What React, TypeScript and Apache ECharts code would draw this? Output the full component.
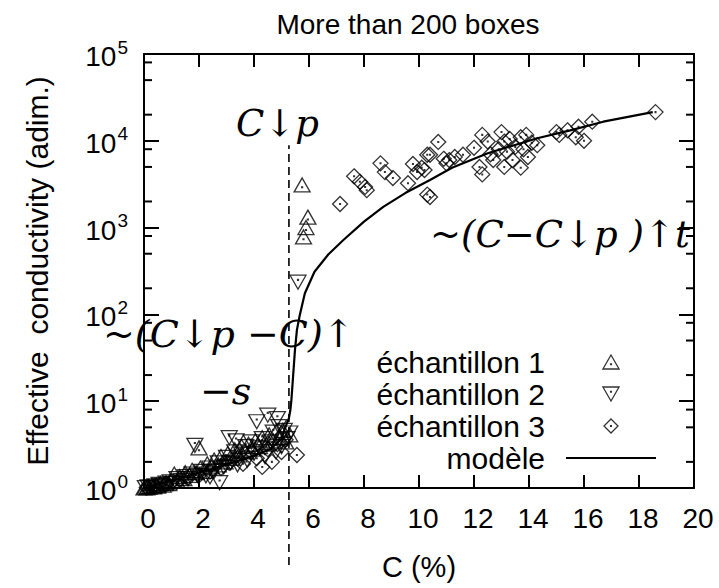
import React, { useEffect, useRef } from "react";
import * as echarts from "echarts";

const TITLE = "More than 200 boxes";
const X_NAME = "C (%)";
const Y_NAME = "Effective\u00a0 conductivity (adim.)";
const SERIES_NAMES = ["échantillon 1", "échantillon 2", "échantillon 3", "modèle"];
const X_MIN = 0;
const X_MAX = 20;
const X_INTERVAL = 2;
const Y_MIN = 1;
const Y_MAX = 1e5;
const MINOR_MANTISSAS = [2, 5, 8];
const MINOR_DECADES = [0, 1, 2, 3, 4];

const CP = 5.27;
const CP_LINE_Y = [0.13, 8900];

const ANNOT_TOP = "C↓p";
const ANNOT_RIGHT = "~(C−C↓p )↑t";
const ANNOT_LEFT = "~(C↓p −C)↑";
const ANNOT_S = "−s";

const sample1: [number, number][] = [
  [0, 1.0], [0.05, 1.02], [0.1, 1.0], [0.15, 1.04], [0.2, 1.02], [0.3, 1.06], [0.35, 1.03],
  [0.45, 1.08], [0.5, 1.05], [0.6, 1.12], [0.7, 1.08], [0.8, 1.15], [0.9, 1.12], [1.0, 1.22],
  [1.1, 1.45], [1.2, 1.2], [1.3, 1.35], [1.45, 1.28], [1.5, 1.5], [1.65, 1.4], [1.75, 1.6],
  [1.9, 1.5], [2.0, 2.9], [2.05, 1.7], [2.2, 1.55], [2.3, 1.9], [2.45, 1.75], [2.55, 2.1],
  [2.7, 1.85], [2.8, 2.3], [2.95, 2.0], [3.05, 2.5], [3.2, 2.2], [3.3, 2.75], [3.45, 2.4],
  [3.55, 3.0], [3.7, 2.6], [3.8, 3.2], [3.95, 2.8], [4.05, 3.5], [4.2, 3.0], [4.3, 3.8],
  [4.45, 3.2], [4.55, 4.1], [4.7, 3.5], [4.8, 4.4], [4.95, 3.8], [5.05, 4.6], [5.15, 3.4],
  [5.3, 4.1],
  [5.75, 3100], [5.96, 1320], [5.89, 1000], [5.8, 780],
];

const sample2: [number, number][] = [
  [0.05, 1.01], [0.15, 1.03], [0.25, 1.02], [0.4, 1.06], [0.55, 1.1], [0.65, 1.06], [0.8, 1.14],
  [0.95, 1.18], [1.05, 1.12], [1.2, 1.28], [1.35, 1.22], [1.5, 1.35], [1.6, 1.28], [1.75, 1.45],
  [1.85, 3.1], [1.95, 1.4], [2.1, 1.55], [2.25, 1.38], [2.4, 1.7], [2.4, 1.34], [2.55, 1.55],
  [2.7, 1.95], [2.75, 1.15], [2.9, 1.75], [3.0, 2.25], [3.1, 3.8], [3.15, 1.95], [3.3, 2.6],
  [3.35, 3.5], [3.4, 1.85], [3.55, 2.45], [3.7, 3.0], [3.75, 2.1], [3.9, 3.4], [4.0, 2.5],
  [4.1, 5.8], [4.2, 2.9], [4.3, 3.7], [4.4, 2.3], [4.5, 6.9], [4.6, 3.4], [4.7, 4.4],
  [4.8, 2.6], [4.85, 6.3], [4.9, 5.1], [5.0, 3.0], [5.1, 4.6], [5.2, 3.7], [5.3, 4.3],
  [5.6, 235],
];

const sample3: [number, number][] = [
  [0.1, 1.01], [0.4, 1.05], [0.8, 1.1], [1.2, 1.18], [1.6, 1.3], [2.0, 1.4], [2.4, 1.55],
  [2.8, 1.7], [3.1, 1.95], [3.4, 2.2], [3.6, 1.9], [3.9, 2.6], [4.1, 2.2], [4.3, 1.75],
  [4.5, 2.8], [4.65, 2.0], [4.85, 3.2], [5.0, 2.6], [5.15, 3.6], [5.56, 2.4],
  [7.13, 1870], [7.64, 3900], [7.85, 3370], [8.04, 2940], [8.1, 2700], [8.6, 5500],
  [8.76, 4360], [9.05, 3720], [9.6, 3250], [9.78, 5400], [9.93, 4370], [10.1, 4900],
  [10.3, 6900], [10.3, 2400], [10.7, 9700], [10.4, 6900], [10.2, 4600], [10.4, 2250],
  [10.9, 6200], [11.0, 5500], [11.1, 6000], [11.3, 6500], [11.6, 6900], [12.0, 8300],
  [12.2, 5000], [12.3, 11700], [12.3, 4100], [12.5, 9800], [12.6, 7000], [12.7, 6000],
  [12.9, 8000], [13.0, 12600], [13.1, 9800], [13.1, 5000], [13.2, 7500], [13.3, 10500],
  [13.4, 6000], [13.5, 8500], [13.7, 11000], [13.7, 4900], [13.8, 8000], [13.9, 11700],
  [13.96, 6500], [14.1, 9500], [14.3, 8900], [15.0, 12600], [15.1, 11700], [15.4, 13200],
  [15.7, 11000], [15.8, 14500], [16.0, 10000], [16.3, 16600], [18.6, 21400],
];

const model: [number, number][] = [
  [0, 1.0], [1, 1.22], [2, 1.5], [3, 1.85], [4, 2.35], [4.6, 2.8], [5.0, 3.7], [5.13, 4.9],
  [5.27, 6.4], [5.32, 7.8], [5.36, 10.3], [5.42, 19], [5.49, 39], [5.56, 66], [5.67, 100],
  [5.85, 175], [6.2, 310], [6.7, 490], [7.25, 720], [8.0, 1170], [8.7, 1730], [9.5, 2500],
  [10.4, 3540], [11.2, 4900], [12.5, 7200], [14.3, 10700], [15.5, 13200], [16.7, 16600],
  [18.5, 21400],
];

const SANS = "'Liberation Sans', Arial, Helvetica, sans-serif";
const SERIF = "'DejaVu Serif', 'Liberation Serif', serif";

const DOT = " M4.75,M_Y L5.25,M_Y L5.25,P_Y L4.75,P_Y Z";
const TRI_UP = "path://M5,0 L10,8.66 L0,8.66 Z" + DOT.replace(/M_Y/g, "5.5").replace(/P_Y/g, "6.0");
const TRI_DOWN = "path://M0,0 L10,0 L5,8.66 Z" + DOT.replace(/M_Y/g, "2.65").replace(/P_Y/g, "3.15");
const DIAMOND = "path://M5,0 L10,5 L5,10 L0,5 Z" + DOT.replace(/M_Y/g, "4.75").replace(/P_Y/g, "5.25");
const LINE_ICON = "path://M0,0 L90,0 L90,2 L0,2 Z";

export default function App() {
  const ref = useRef<HTMLDivElement>(null);

  useEffect(() => {
    if (!ref.current) return;
    const chart = echarts.init(ref.current, undefined, { renderer: "svg" });

    const minorTicks: number[][] = [];
    MINOR_DECADES.forEach((d) =>
      MINOR_MANTISSAS.forEach((m) => minorTicks.push([X_MIN, m * Math.pow(10, d)]))
    );

    const hollow = { color: "rgba(0,0,0,0)", borderColor: "#000", borderWidth: 1.3 };
    const axisLine = { show: true, onZero: false, lineStyle: { color: "#000", width: 2 } };

    const option: any = {
      animation: false,
      backgroundColor: "#fff",
      grid: { left: 144, right: 25, top: 54, bottom: 100, containLabel: false },
      xAxis: [
        {
          type: "value",
          min: X_MIN,
          max: X_MAX,
          interval: X_INTERVAL,
          position: "bottom",
          name: X_NAME,
          nameLocation: "middle",
          nameGap: 64,
          nameTextStyle: { fontSize: 29, fontFamily: SANS, color: "#000" },
          axisLine,
          axisTick: { show: true, inside: true, length: 13, lineStyle: { color: "#000", width: 2 } },
          axisLabel: { fontSize: 28, fontFamily: SANS, color: "#000", margin: 16, padding: [0, 0, 0, 8] },
          splitLine: { show: false },
        },
        {
          type: "value",
          min: X_MIN,
          max: X_MAX,
          interval: X_INTERVAL,
          position: "top",
          axisLine,
          axisTick: { show: true, inside: true, length: 13, lineStyle: { color: "#000", width: 2 } },
          axisLabel: { show: false },
          splitLine: { show: false },
        },
      ],
      yAxis: [
        {
          type: "log",
          logBase: 10,
          min: Y_MIN,
          max: Y_MAX,
          splitNumber: 5,
          position: "left",
          name: Y_NAME,
          nameLocation: "middle",
          nameGap: 92,
          nameRotate: 90,
          nameTextStyle: { fontSize: 30, fontFamily: SANS, color: "#000" },
          axisLine,
          axisTick: { show: true, inside: true, length: 15, lineStyle: { color: "#000", width: 2 } },
          axisLabel: {
            margin: 16,
            formatter: (v: number) => `{b|10}{s|${Math.round(Math.log10(v))}}`,
            rich: {
              b: { fontSize: 28, fontFamily: SANS, color: "#000", verticalAlign: "bottom" },
              s: { fontSize: 19, fontFamily: SANS, color: "#000", verticalAlign: "bottom", padding: [0, 0, 14, 1] },
            },
          },
          splitLine: { show: false },
        },
        {
          type: "log",
          logBase: 10,
          min: Y_MIN,
          max: Y_MAX,
          splitNumber: 5,
          position: "right",
          axisLine,
          axisTick: { show: true, inside: true, length: 15, lineStyle: { color: "#000", width: 2 } },
          axisLabel: { show: false },
          splitLine: { show: false },
        },
      ],
      legend: {
        data: [
          { name: SERIES_NAMES[0] },
          { name: SERIES_NAMES[1] },
          { name: SERIES_NAMES[2] },
          { name: SERIES_NAMES[3], icon: LINE_ICON, itemStyle: { color: "#000", borderWidth: 0 } },
        ],
        orient: "vertical",
        align: "right",
        right: 58,
        top: 341,
        itemWidth: 90,
        itemHeight: 14,
        itemGap: 0,
        selectedMode: false,
        itemStyle: { borderWidth: 1.3 },
        textStyle: { fontSize: 30, fontFamily: SANS, color: "#000", lineHeight: 32, padding: [0, 16, 0, 0] },
      },
      series: [
        {
          name: SERIES_NAMES[0],
          type: "scatter",
          data: sample1,
          symbol: TRI_UP,
          symbolSize: [16, 14],
          itemStyle: hollow,
          z: 3,
        },
        {
          name: SERIES_NAMES[1],
          type: "scatter",
          data: sample2,
          symbol: TRI_DOWN,
          symbolSize: [16, 14],
          itemStyle: hollow,
          z: 3,
        },
        {
          name: SERIES_NAMES[2],
          type: "scatter",
          data: sample3,
          symbol: DIAMOND,
          symbolSize: 15,
          itemStyle: hollow,
          z: 3,
        },
        {
          name: SERIES_NAMES[3],
          type: "line",
          data: model,
          symbol: "none",
          showSymbol: false,
          lineStyle: { color: "#000", width: 2.2 },
          itemStyle: { color: "#000" },
          z: 4,
        },
        {
          name: "Cp",
          type: "line",
          data: CP_LINE_Y.map((y) => [CP, y]),
          symbol: "none",
          clip: false,
          lineStyle: { color: "#000", width: 1.6, type: [8, 5] },
          z: 2,
        },
        {
          name: "minor",
          type: "custom",
          data: minorTicks,
          silent: true,
          clip: false,
          renderItem: (params: any, api: any) => {
            const v = api.value(1);
            const pl = api.coord([X_MIN, v]);
            const pr = api.coord([X_MAX, v]);
            const st = { stroke: "#000", lineWidth: 2 };
            return {
              type: "group",
              children: [
                { type: "line", shape: { x1: pl[0], y1: pl[1], x2: pl[0] + 8, y2: pl[1] }, style: st },
                { type: "line", shape: { x1: pr[0] - 8, y1: pr[1], x2: pr[0], y2: pr[1] }, style: st },
              ],
            };
          },
        },
      ],
      graphic: [
        {
          type: "text",
          x: 408,
          y: 24,
          style: { text: TITLE, fontSize: 28, fontFamily: SANS, fill: "#000", textAlign: "center", textVerticalAlign: "middle" },
        },
        {
          type: "text",
          x: 236,
          y: 123,
          style: { text: ANNOT_TOP, fontSize: 37, fontFamily: SERIF, fontStyle: "italic", fill: "#000", textVerticalAlign: "middle" },
        },
        {
          type: "text",
          x: 430,
          y: 234,
          style: { text: ANNOT_RIGHT, fontSize: 37, fontFamily: SERIF, fontStyle: "italic", fill: "#000", textVerticalAlign: "middle" },
        },
        {
          type: "text",
          x: 103,
          y: 334,
          style: { text: ANNOT_LEFT, fontSize: 38, fontFamily: SERIF, fontStyle: "italic", fill: "#000", textVerticalAlign: "middle" },
        },
        {
          type: "text",
          x: 200,
          y: 391,
          style: { text: ANNOT_S, fontSize: 38, fontFamily: SERIF, fontStyle: "italic", fill: "#000", textVerticalAlign: "middle" },
        },
      ],
    };

    chart.setOption(option);
    return () => chart.dispose();
  }, []);

  return (
    <div
      ref={ref}
      style={{ position: "absolute", left: 0, top: 0, width: 719, height: 588, background: "#fff" }}
    />
  );
}
